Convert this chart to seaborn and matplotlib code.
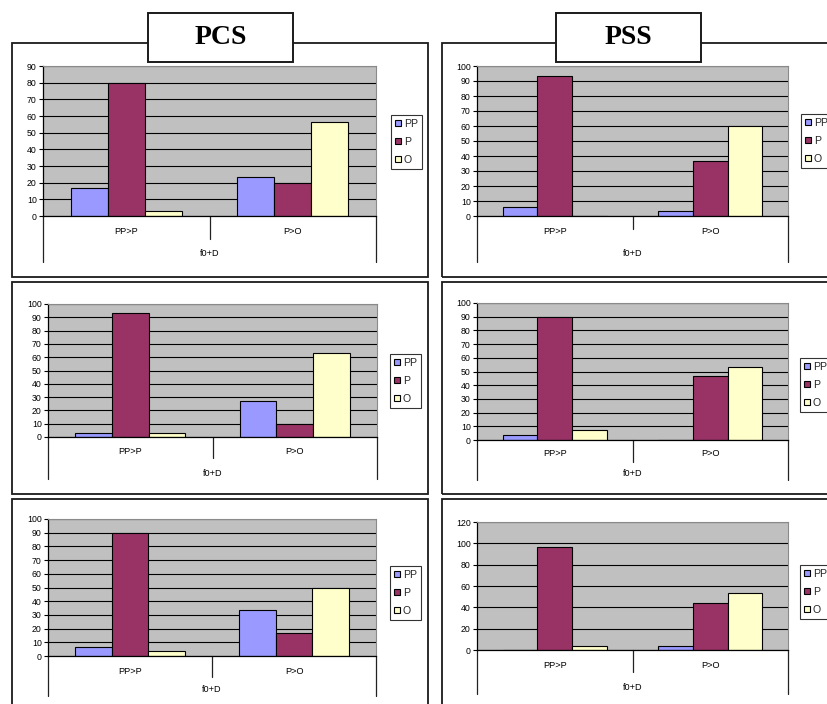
import numpy as np
import pandas as pd
import matplotlib
matplotlib.use("Agg")
import matplotlib.pyplot as plt
import seaborn as sns
from matplotlib.patches import Rectangle, Patch
from matplotlib.lines import Line2D

# ---- data -------------------------------------------------------------
categories = ["PP>P", "P>O"]
series_names = ["PP", "P", "O"]
series_colors = ["#9999FF", "#993366", "#FFFFCC"]
axis_title = "f0+D"

# PCS column (top, middle, bottom)
pcs_top_pp = [16.7, 23.3]
pcs_top_p = [80.0, 20.0]
pcs_top_o = [3.3, 56.7]

pcs_mid_pp = [3.3, 26.7]
pcs_mid_p = [93.5, 10.0]
pcs_mid_o = [3.3, 63.3]

pcs_bot_pp = [6.7, 33.3]
pcs_bot_p = [90.0, 16.7]
pcs_bot_o = [3.3, 50.0]

# PSS column (top, middle, bottom)
pss_top_pp = [6.2, 3.5]
pss_top_p = [93.5, 36.7]
pss_top_o = [0.0, 60.0]

pss_mid_pp = [3.5, 0.0]
pss_mid_p = [90.0, 47.0]
pss_mid_o = [7.0, 53.0]

pss_bot_pp = [0.0, 3.5]
pss_bot_p = [97.0, 44.0]
pss_bot_o = [3.5, 53.5]

# ---- figure -----------------------------------------------------------
sns.set_theme(style="white")
plt.rcParams["font.family"] = ["Liberation Sans", "DejaVu Sans"]

W, H = 827, 704
fig = plt.figure(figsize=(W / 100, H / 100), dpi=100)
fig.patch.set_facecolor("white")

TICK_FS = 6.3
CAT_FS = 6.6
LEG_FS = 7.6


def fig_rect(l, t, r, b, **kw):
    """Rectangle given in pixel edges (origin top-left)."""
    rect = Rectangle((l / W, 1 - b / H), (r - l) / W, (b - t) / H,
                     transform=fig.transFigure, clip_on=False, **kw)
    fig.add_artist(rect)
    return rect


def draw_panel(pp, p, o, ymax, ystep, box, label_y, title_y, div_bot,
               line_bot, leg_xy):
    l, t, r, b = box
    ax = fig.add_axes([l / W, 1 - b / H, (r - l) / W, (b - t) / H])
    df = pd.DataFrame({
        "category": categories * 3,
        "series": [s for s in series_names for _ in categories],
        "value": list(pp) + list(p) + list(o),
    })
    sns.barplot(data=df, x="category", y="value", hue="series",
                order=categories, hue_order=series_names,
                palette=series_colors, saturation=1, width=2 / 3,
                edgecolor="black", linewidth=0.8, legend=False, ax=ax)
    ax.set_facecolor("#C0C0C0")
    ax.set_xlim(-0.5, 1.5)
    ax.set_ylim(0, ymax)
    ax.set_yticks(np.arange(0, ymax + 1, ystep))
    ax.yaxis.grid(True, color="black", lw=0.8)
    ax.set_axisbelow(True)
    ax.set_xticks([])
    ax.set_xlabel("")
    ax.set_ylabel("")
    ax.tick_params(axis="y", direction="out", length=3, width=0.8,
                   color="black", labelsize=TICK_FS, pad=1.5, left=True,
                   labelcolor="black")
    for s in ("top", "right"):
        ax.spines[s].set_color("#8a8a8a")
        ax.spines[s].set_linewidth(0.8)
    for s in ("left", "bottom"):
        ax.spines[s].set_color("black")
        ax.spines[s].set_linewidth(0.9)

    h = b - t

    def ay(py):
        return -(py - b) / h

    tr = ax.get_xaxis_transform()
    for xv, bot in ((-0.5, line_bot), (0.5, div_bot), (1.5, line_bot)):
        ax.add_line(Line2D([xv, xv], [0, ay(bot)], transform=tr,
                           color="#222222", lw=0.9, clip_on=False))
    for i, cat in enumerate(categories):
        ax.text(i, ay(label_y), cat, transform=tr, ha="center",
                va="center", fontsize=CAT_FS, color="black")
    ax.text(0.5, ay(title_y), axis_title, transform=tr, ha="center",
            va="center", fontsize=CAT_FS, color="black")

    handles = [Patch(facecolor=c, edgecolor="black", lw=0.8)
               for c in series_colors]
    leg = fig.legend(handles, series_names, loc="upper left",
                     bbox_to_anchor=(leg_xy[0] / W, 1 - leg_xy[1] / H),
                     bbox_transform=fig.transFigure, frameon=True,
                     fancybox=False, edgecolor="black", fontsize=LEG_FS,
                     handlelength=0.5, handleheight=0.5,
                     handletextpad=0.3, labelspacing=0.75,
                     borderpad=0.4, borderaxespad=0)
    leg.get_frame().set_linewidth(0.8)
    return ax


# panel frames
frame_kw = dict(fill=False, edgecolor="#1a1a1a", lw=1.3)
for (t, b) in ((43, 277), (282, 494), (499, 712)):
    fig_rect(12, t, 428, b, **frame_kw)
    fig_rect(442, t, 858, b, **frame_kw)

# PCS column
draw_panel(pcs_top_pp, pcs_top_p, pcs_top_o, 90, 10, (43, 66, 376, 216),
           231, 253, 239, 262, (391, 115))
draw_panel(pcs_mid_pp, pcs_mid_p, pcs_mid_o, 100, 10, (48, 304, 377, 437),
           452, 473, 458, 479, (390, 354))
draw_panel(pcs_bot_pp, pcs_bot_p, pcs_bot_o, 100, 10, (48, 519, 376, 656),
           672, 690, 677, 696, (390, 566))

# PSS column
draw_panel(pss_top_pp, pss_top_p, pss_top_o, 100, 10, (477, 66, 788, 216),
           231, 253, 229, 262, (801, 114))
draw_panel(pss_mid_pp, pss_mid_p, pss_mid_o, 100, 10, (477, 303, 788, 440),
           454, 473, 462, 480, (800, 358))
draw_panel(pss_bot_pp, pss_bot_p, pss_bot_o, 120, 20, (477, 522, 788, 650),
           665, 687, 672, 694, (800, 565))

# column headings
for text, (l, r) in (("PCS", (148, 293)), ("PSS", (556, 701))):
    fig_rect(l, 13, r, 62, facecolor="white", edgecolor="#1a1a1a", lw=1.4,
             zorder=5)
    fig.text((l + r) / 2 / W, 1 - 38 / H, text, ha="center", va="center",
             fontsize=20, fontweight="bold", color="black",
             family=["Liberation Serif", "DejaVu Serif"], zorder=6)

fig.savefig("out.png", dpi=100, facecolor="white")
